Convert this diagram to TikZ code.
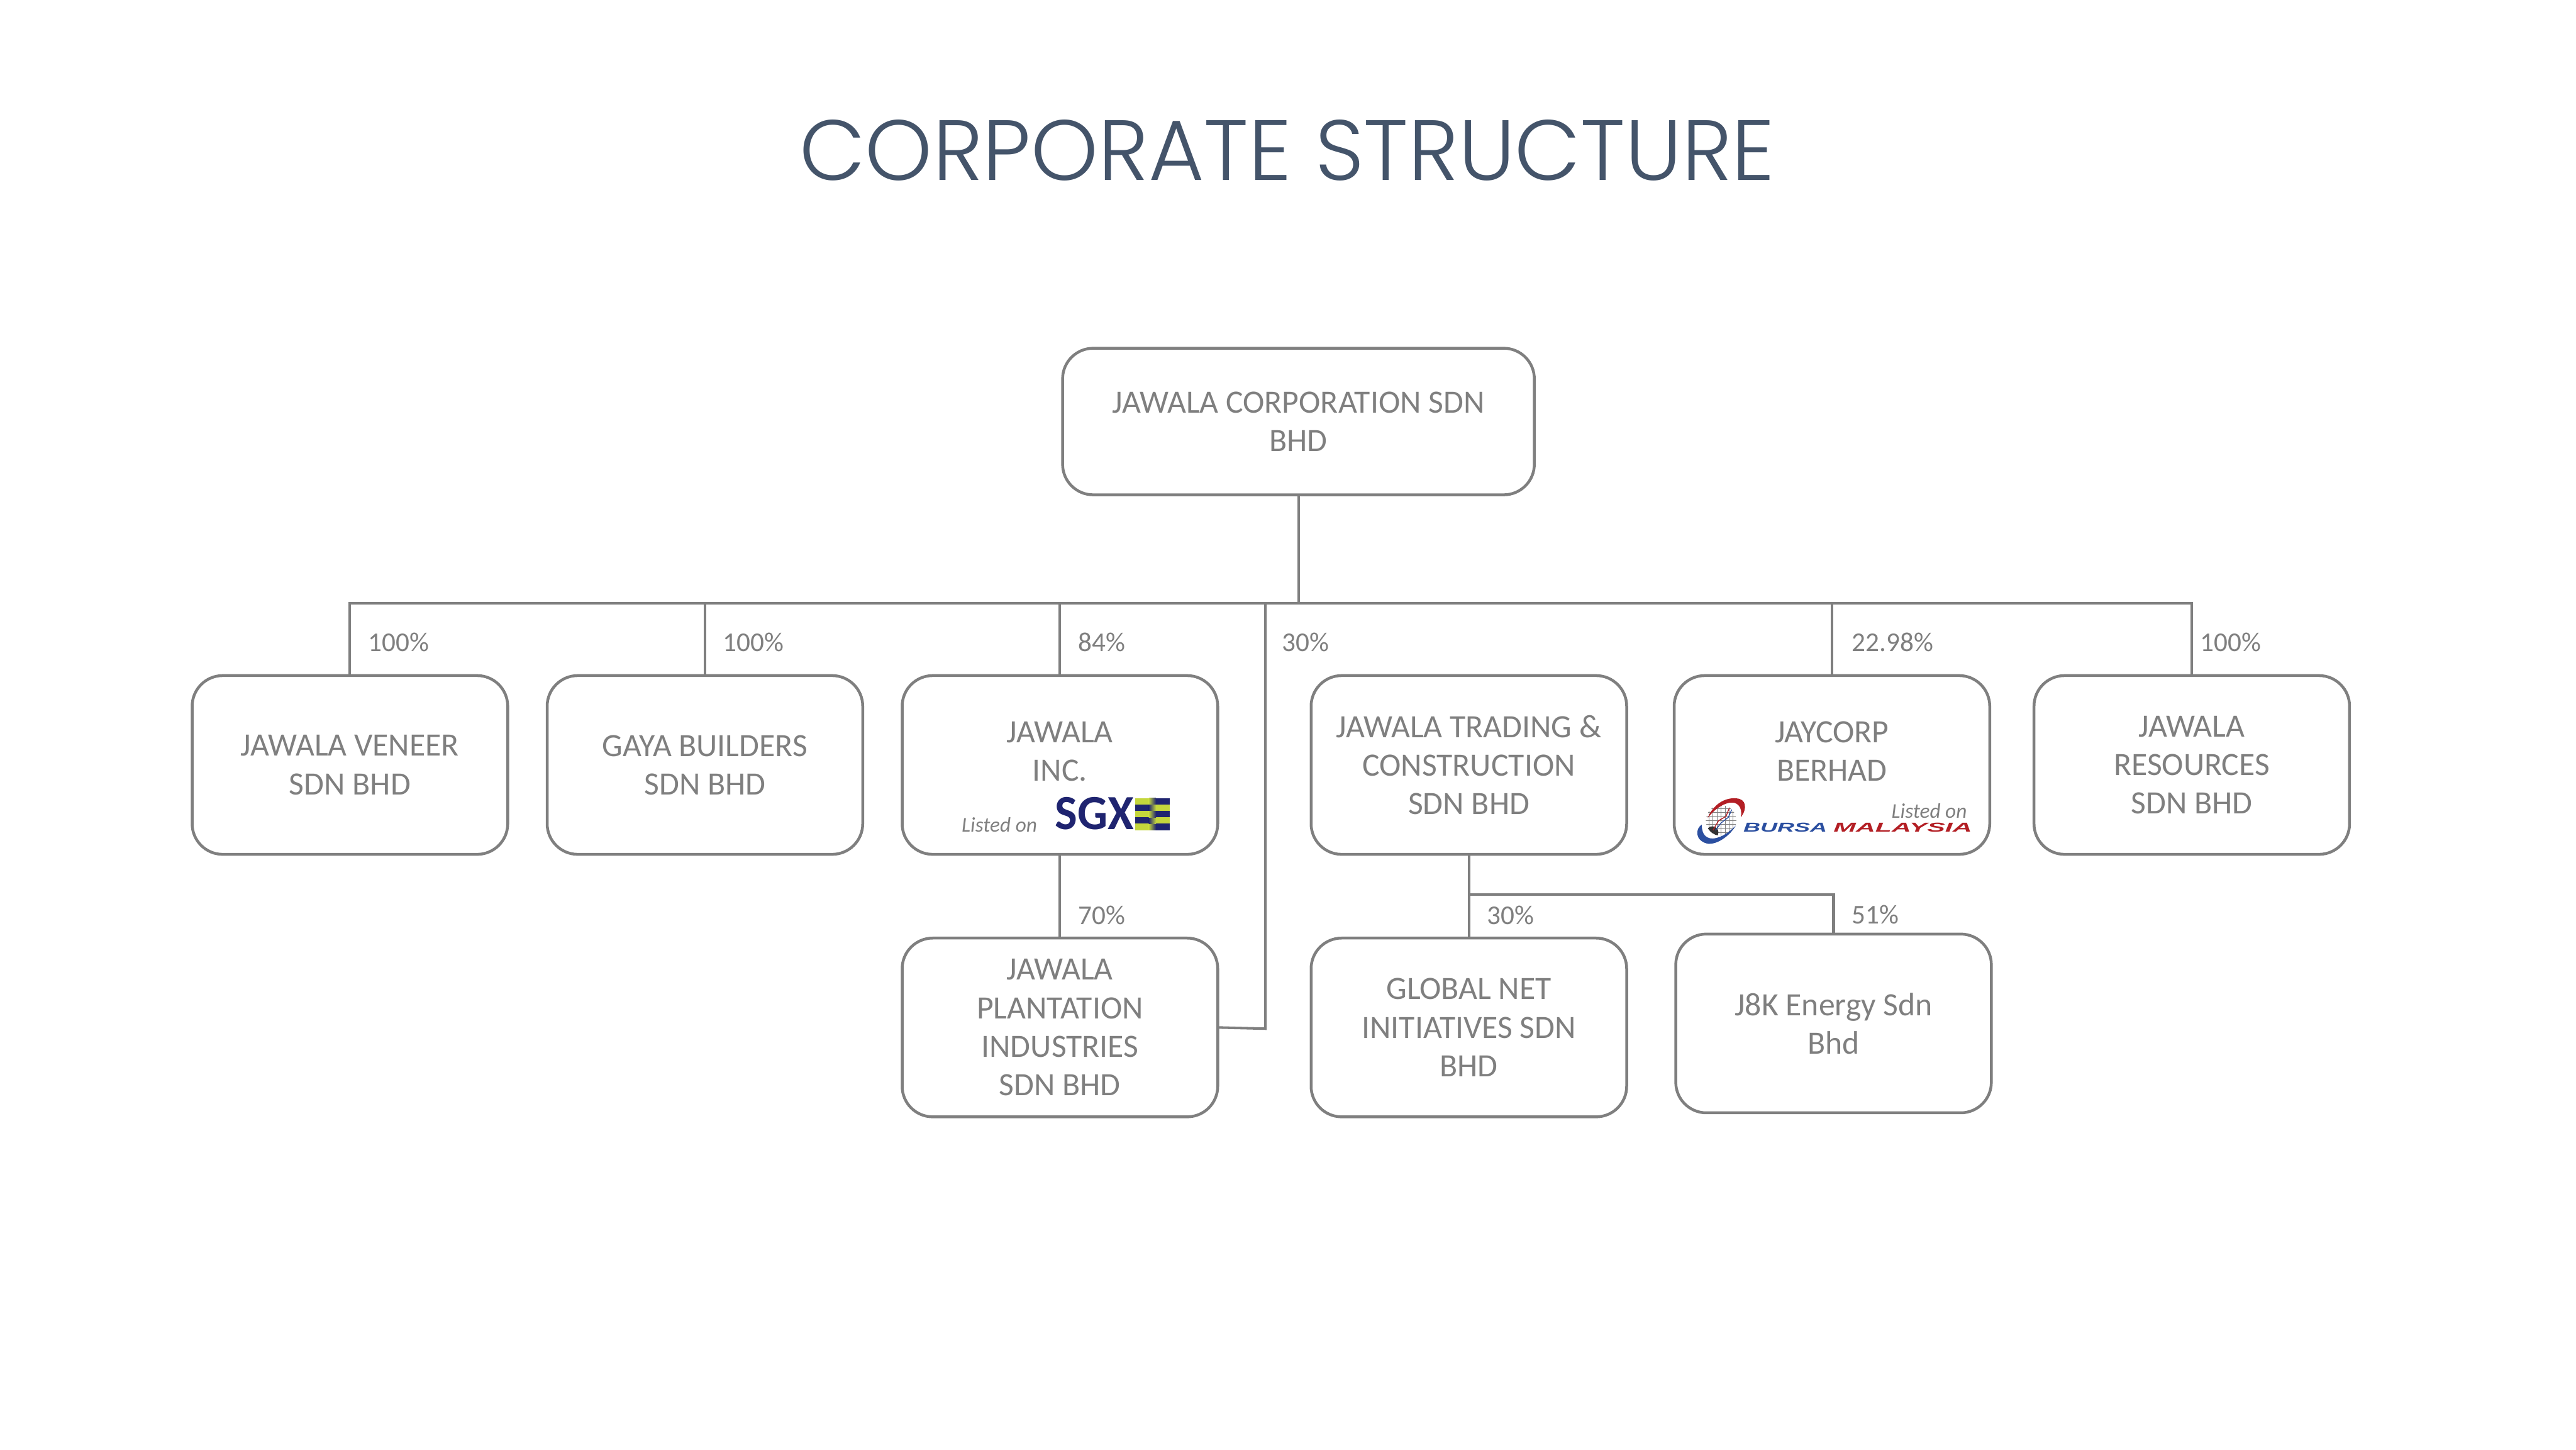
\documentclass[tikz,border=0pt]{standalone}
\usepackage{fontspec}
\setmainfont{Carlito}
\newfontfamily\titlefont[UprightFont=* Light]{Poppins}
\newfontfamily\logofont{Liberation Sans}
\usetikzlibrary{positioning}
\definecolor{linegray}{HTML}{7F7F7F}
\definecolor{titleblue}{HTML}{44546A}
\definecolor{sgxnavy}{HTML}{1F2470}
\definecolor{sgxlime}{HTML}{C4D63C}
\definecolor{bursablue}{HTML}{2B4FA0}
\definecolor{bursared}{HTML}{B31E24}

\begin{document}
\begin{tikzpicture}[
  boxstyle/.style={
        draw=linegray,
        line width=1pt,
        rounded corners=0.38cm,
        minimum width=3.92cm,
        minimum height=2.22cm,
        inner sep=2pt,
        outer sep=0pt,
        align=center,
        text=linegray,
        font=\fontsize{11.5}{13.6}\selectfont
  },
  pctstyle/.style={
        inner sep=0pt,
        text=linegray,
        font=\fontsize{9.6}{11}\selectfont
  },
  listedstyle/.style={
        inner sep=0pt,
        text=linegray,
        font=\fontsize{7.4}{9}\selectfont\itshape
  },
  linkstyle/.style={
        draw=linegray,
        line width=0.9pt
  }
]

    \useasboundingbox (0,0) rectangle (32,-18);

    \node[text=titleblue, font=\fontsize{30.2}{36}\selectfont\titlefont] (title) at (15.99,-1.87) {CORPORATE STRUCTURE};

    \node[boxstyle, minimum width=5.86cm, minimum height=1.82cm] (root) at (16.13,-5.235) {JAWALA CORPORATION SDN\\BHD};

    \node[boxstyle] (veneer) at (4.347,-9.5) {JAWALA VENEER\\SDN BHD};
    \node[boxstyle, right=0.49cm of veneer] (gaya) {GAYA BUILDERS\\SDN BHD};
    \node[boxstyle, right=0.49cm of gaya] (inc) {JAWALA\\INC.\\[-0.14cm]\mbox{}};
    \node[boxstyle, right=1.16cm of inc] (trading) {JAWALA TRADING \&\\CONSTRUCTION\\SDN BHD};
    \node[boxstyle, right=0.59cm of trading] (jaycorp) {JAYCORP\\BERHAD\\[-0.14cm]\mbox{}};
    \node[boxstyle, right=0.55cm of jaycorp] (resources) {JAWALA\\RESOURCES\\SDN BHD};

    \node[boxstyle, below=1.04cm of inc] (plantation) {JAWALA\\PLANTATION\\INDUSTRIES\\SDN BHD};
    \node[boxstyle, below=1.04cm of trading] (global) {GLOBAL NET\\INITIATIVES SDN\\BHD};
    \node[boxstyle, right=0.61cm of global, yshift=0.05cm] (jek) {J8K Energy Sdn\\Bhd};

    \coordinate[below=1.35cm of root] (bus);
    \coordinate[left=0.41cm of bus] (buskink);
    \coordinate[below=0.5cm of trading] (branch);

    \draw[linkstyle] (root) -- (bus);
    \draw[linkstyle] (veneer) |- (bus);
    \draw[linkstyle] (gaya) |- (bus);
    \draw[linkstyle] (inc) |- (bus);
    \draw[linkstyle] (jaycorp) |- (bus);
    \draw[linkstyle] (resources) |- (bus);
    \draw[linkstyle] (plantation.east) -- ([yshift=-0.015cm]buskink |- plantation.east) -- (buskink);
    \draw[linkstyle] (inc) -- (plantation);
    \draw[linkstyle] (trading) -- (global);
    \draw[linkstyle] (branch) -| (jek);

    \node[pctstyle, above right=0.29cm and 0.22cm of veneer.north] (pct_veneer) {100\%};
    \node[pctstyle, above right=0.29cm and 0.22cm of gaya.north] (pct_gaya) {100\%};
    \node[pctstyle, above right=0.29cm and 0.22cm of inc.north] (pct_inc) {84\%};
    \node[pctstyle, below right=0.36cm and 0.2cm of buskink] (pct_plantation) {30\%};
    \node[pctstyle, above right=0.29cm and 0.24cm of jaycorp.north] (pct_jaycorp) {22.98\%};
    \node[pctstyle, above right=0.29cm and 0.1cm of resources.north] (pct_resources) {100\%};
    \node[pctstyle, above right=0.16cm and 0.22cm of plantation.north] (pct_incplant) {70\%};
    \node[pctstyle, above right=0.16cm and 0.22cm of global.north] (pct_global) {30\%};
    \node[pctstyle, above right=0.12cm and 0.22cm of jek.north] (pct_jek) {51\%};

    \node[listedstyle, anchor=base west] (listed_inc) at (11.94,-10.33) {Listed on};
    \node[anchor=south west, inner sep=0pt, text=sgxnavy] (sgx) at (13.1,-10.31)
        {\resizebox{0.98cm}{0.4cm}{\bfseries SGX}};
    \begin{scope}[shift={(14.1,-10.31)}]
        \foreach \i/\cl/\cr in {0/sgxlime/sgxnavy, 1/sgxnavy/sgxlime, 2/sgxlime/sgxnavy, 3/sgxnavy/sgxlime, 4/sgxlime/sgxnavy} {
            \fill[\cl] (0,0.08*\i) rectangle (0.17,0.08*\i+0.08);
            \shade[left color=\cl, right color=\cr] (0.17,0.08*\i) rectangle (0.26,0.08*\i+0.08);
            \fill[\cr] (0.26,0.08*\i) rectangle (0.43,0.08*\i+0.08);
        }
    \end{scope}

    \node[listedstyle, anchor=base east] (listed_jay) at (24.44,-10.16) {Listed on};
    \node[anchor=south west, inner sep=0pt, text=bursablue] (bursa) at (21.65,-10.34)
        {\resizebox{1.04cm}{0.112cm}{\logofont\bfseries\itshape BURSA}};
    \node[anchor=south west, inner sep=0pt, text=bursared] (malaysia) at (22.77,-10.34)
        {\resizebox{1.72cm}{0.112cm}{\logofont\bfseries\itshape MALAYSIA}};
    \begin{scope}[shift={(21.38,-10.19)}]
        \begin{scope}
            \clip (0,0) ellipse (0.19cm and 0.19cm);
            \draw[gray, line width=0.2pt, step=0.05] (-0.2,-0.2) grid (0.2,0.2);
            \fill[black!80] (-0.108,-0.147) circle (0.075);
            \draw[bursared, line width=0.3pt] (-0.1,-0.12) -- (-0.03,0) -- (0.06,0.05) -- (0.12,0.2);
            \draw[bursablue, line width=0.3pt] (-0.07,-0.12) -- (0,-0.03) -- (0.09,0.04) -- (0.16,0.2);
        \end{scope}
        \fill[bursared] (-0.167,0.03) .. controls (-0.1,0.2) and (0.05,0.29) .. (0.19,0.275)
            .. controls (0.31,0.27) and (0.33,0.15) .. (0.245,0.04)
            .. controls (0.27,0.17) and (0.2,0.24) .. (0.1,0.22)
            .. controls (0,0.2) and (-0.1,0.12) .. (-0.167,0.03);
        \fill[bursablue] (-0.24,-0.05) .. controls (-0.32,-0.1) and (-0.33,-0.25) .. (-0.167,-0.288)
            .. controls (-0.05,-0.3) and (0.1,-0.2) .. (0.184,-0.06)
            .. controls (0.08,-0.17) and (-0.05,-0.24) .. (-0.14,-0.22)
            .. controls (-0.22,-0.2) and (-0.24,-0.13) .. (-0.24,-0.05);
    \end{scope}

\end{tikzpicture}
\end{document}
